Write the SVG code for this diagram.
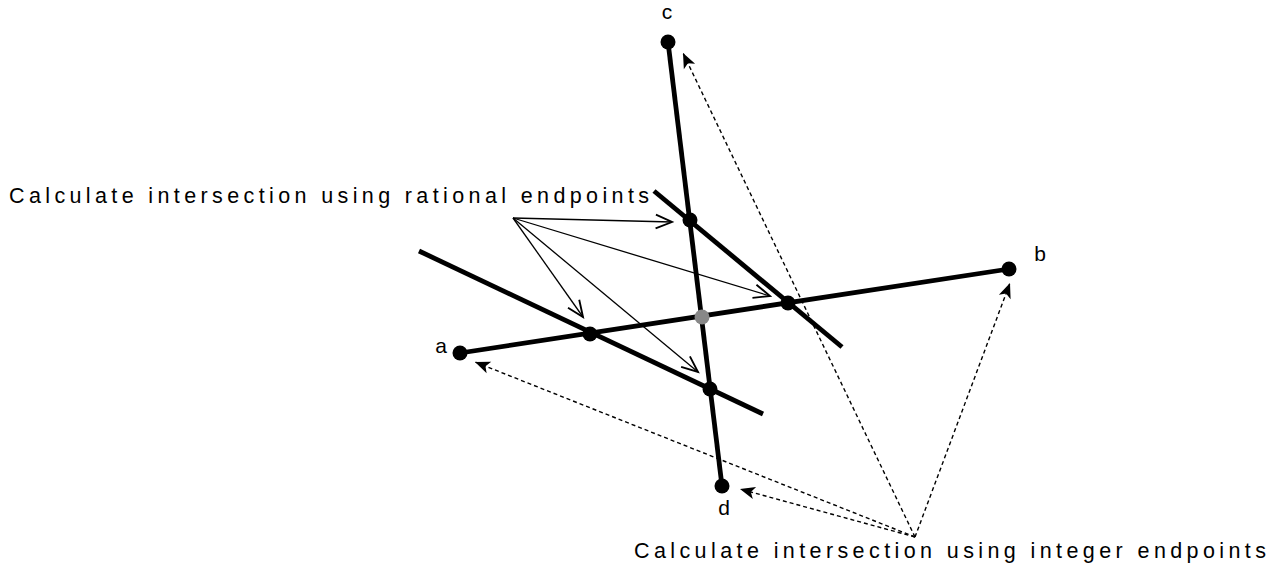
<svg xmlns="http://www.w3.org/2000/svg" width="1288" height="569" viewBox="0 0 1288 569">
  <style>
    .seg { stroke: #000; stroke-width: 4.8; fill: none; }
    .dot { fill: #000; }
    .gray { fill: #888; }
    .sol { stroke: #000; stroke-width: 1.3; fill: none; marker-end: url(#open); }
    .dash { stroke: #000; stroke-width: 1.4; fill: none; stroke-dasharray: 4 3; marker-end: url(#dart); }
    .lbl { font-family: "Liberation Sans", Arial, sans-serif; font-size: 21px; fill: #000; }
    .cap { font-family: "Liberation Sans", Arial, sans-serif; font-size: 21.5px; fill: #000; }
  </style>
  <defs>
    <marker id="open" markerUnits="userSpaceOnUse" markerWidth="20" markerHeight="20" viewBox="-14 -8 16 16" refX="0" refY="0" orient="auto">
      <path d="M-13,-5.5 L0,0 L-13,5.5" fill="none" stroke="#000" stroke-width="1.5"/>
    </marker>
    <marker id="dart" markerUnits="userSpaceOnUse" markerWidth="20" markerHeight="20" viewBox="-14 -8 16 16" refX="0" refY="0" orient="auto">
      <path d="M0,0 L-12,-5 L-9,0 L-12,5 z" fill="#000"/>
    </marker>
  </defs>

  <g id="segments">
    <line id="seg-ab" class="seg" x1="460" y1="353" x2="1009" y2="269"/>
    <line id="seg-cd" class="seg" x1="668" y1="42" x2="722" y2="486"/>
    <line id="seg-1" class="seg" x1="654" y1="191" x2="842" y2="347"/>
    <line id="seg-2" class="seg" x1="419" y1="251" x2="763" y2="414"/>
  </g>

  <g id="connectors">
    <line class="sol" x1="513" y1="218" x2="672" y2="222"/>
    <line class="sol" x1="513" y1="218" x2="770" y2="296"/>
    <line class="sol" x1="513" y1="218" x2="583" y2="317"/>
    <line class="sol" x1="513" y1="218" x2="698" y2="372"/>
    <line class="dash" x1="915" y1="537" x2="683" y2="53"/>
    <line class="dash" x1="915" y1="537" x2="1010" y2="283"/>
    <line class="dash" x1="915" y1="537" x2="475" y2="362"/>
    <line class="dash" x1="915" y1="537" x2="740" y2="489"/>
  </g>

  <g id="node-a"><circle class="dot" cx="460" cy="353" r="7.5"/><text class="lbl" x="441" y="353" text-anchor="middle">a</text></g>
  <g id="node-b"><circle class="dot" cx="1009" cy="269" r="7.5"/><text class="lbl" x="1040" y="261" text-anchor="middle">b</text></g>
  <g id="node-c"><circle class="dot" cx="668" cy="42" r="7.5"/><text class="lbl" x="667" y="19" text-anchor="middle">c</text></g>
  <g id="node-d"><circle class="dot" cx="722" cy="486" r="7.5"/><text class="lbl" x="724" y="515" text-anchor="middle">d</text></g>

  <g id="node-i1"><circle class="dot" cx="690" cy="220" r="7.5"/></g>
  <g id="node-i2"><circle class="dot" cx="788" cy="303" r="7.5"/></g>
  <g id="node-i3"><circle class="dot" cx="590" cy="334" r="7.5"/></g>
  <g id="node-i4"><circle class="dot" cx="710" cy="389" r="7.5"/></g>
  <g id="node-gray"><circle class="gray" cx="702" cy="317" r="7.5"/></g>

  <g id="label-rational"><text class="cap" x="9" y="203" textLength="640" lengthAdjust="spacing">Calculate intersection using rational endpoints</text></g>
  <g id="label-integer"><text class="cap" x="634" y="558" textLength="632" lengthAdjust="spacing">Calculate intersection using integer endpoints</text></g>
</svg>
